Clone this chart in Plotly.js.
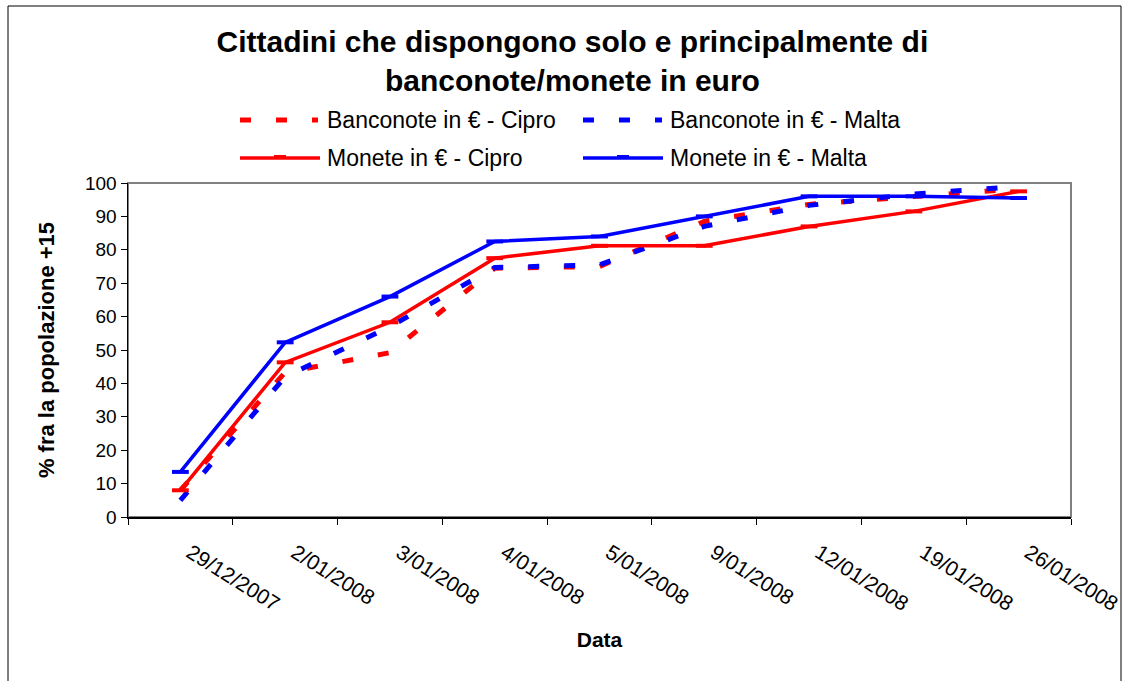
<!DOCTYPE html>
<html>
<head>
<meta charset="utf-8">
<script src="https://cdn.plot.ly/plotly-3.0.1.min.js"></script>
<style>html,body{margin:0;padding:0;background:#fff;}#chart{width:1129px;height:681px;}</style>
</head>
<body>
<div id="chart"></div>
<script>
const categories = ["29/12/2007","2/01/2008","3/01/2008","4/01/2008","5/01/2008","9/01/2008","12/01/2008","19/01/2008","26/01/2008"];
const banconoteCipro = [8, 43.3, 49.2, 74.5, 75, 88.5, 93.6, 96, 98.3];
const banconoteMalta = [5, 42, 57, 74.7, 75.5, 87, 93.3, 96.7, 99];
const moneteCipro = [8, 46.3, 58.3, 77.5, 81.2, 81.2, 87, 91.5, 97.5];
const moneteMalta = [13.5, 52.3, 66, 82.5, 84, 90, 96, 96, 95.5];
const seriesNames = ["Banconote in € - Cipro", "Banconote in € - Malta", "Monete in € - Cipro", "Monete in € - Malta"];
const titleText = "Cittadini che dispongono solo e principalmente di<br>banconote/monete in euro";
const xTitle = "Data";
const yTitle = "% fra la popolazione +15";

const RED = "#ff0000", BLUE = "#0000ff";
const FONT = "Liberation Sans, Arial, sans-serif";
const DASH = "11px,25px";

function tr(y, name, color, dashed) {
  return {
    x: categories, y: y, name: name, type: "scatter", mode: dashed ? "lines" : "lines+markers",
    line: {color: color, width: dashed ? 5 : 3.5, dash: dashed ? DASH : "solid"},
    marker: {symbol: "line-ew", size: 12, line: {color: color, width: 4}},
    showlegend: false, cliponaxis: false
  };
}
const data = [
  tr(banconoteCipro, seriesNames[0], RED, true),
  tr(banconoteMalta, seriesNames[1], BLUE, true),
  tr(moneteCipro, seriesNames[2], RED, false),
  tr(moneteMalta, seriesNames[3], BLUE, false)
];

// plot-area pixel geometry helpers for the hand-made legend
const L = 128, R = 58, T = 183, B = 164, W = 1129, H = 681;
const pw = W - L - R, ph = H - T - B;
const px = v => (v - L) / pw;
const py = v => (H - B - v) / ph;

const legendItems = [
  {name: seriesNames[0], color: RED, dash: DASH, w: 5, x0: 240, x1: 318, tx: 325, y: 120},
  {name: seriesNames[1], color: BLUE, dash: DASH, w: 5, x0: 583, x1: 662, tx: 668, y: 120},
  {name: seriesNames[2], color: RED, dash: "solid", w: 3.5, x0: 240, x1: 320, tx: 325, y: 158},
  {name: seriesNames[3], color: BLUE, dash: "solid", w: 3.5, x0: 583, x1: 663, tx: 668, y: 158}
];
const shapes = [
  {type: "rect", xref: "paper", yref: "paper", x0: px(8), x1: px(1121), y0: py(700), y1: py(6), line: {color: "#000", width: 1}, layer: "below"},
  {type: "rect", xref: "paper", yref: "paper", x0: 0, x1: 1, y0: 0, y1: 1, line: {color: "#808080", width: 2}, layer: "below"}
];
const annotations = [];
legendItems.forEach(it => {
  shapes.push({type: "line", xref: "paper", yref: "paper", x0: px(it.x0), x1: px(it.x1), y0: py(it.y), y1: py(it.y), line: {color: it.color, width: it.w, dash: it.dash}});
  if (it.dash === "solid") {
    const m = (it.x0 + it.x1) / 2;
    shapes.push({type: "line", xref: "paper", yref: "paper", x0: px(m - 6), x1: px(m + 6), y0: py(it.y - 1), y1: py(it.y - 1), line: {color: it.color, width: 4}});
  }
  annotations.push({xref: "paper", yref: "paper", x: px(it.tx), y: py(it.y), xanchor: "left", yanchor: "middle", showarrow: false, text: it.name, font: {family: FONT, size: 23, color: "#000"}});
});

const layout = {
  width: W, height: H,
  margin: {l: L, r: R, t: T, b: B},
  paper_bgcolor: "#fff", plot_bgcolor: "#fff",
  font: {family: FONT, color: "#000"},
  title: {text: titleText, x: 0.507, xanchor: "center", y: 1 - 52 / H, yanchor: "middle", yref: "container", font: {family: FONT, size: 30, color: "#000", weight: "bold"}},
  showlegend: false,
  xaxis: {
    type: "category", tickson: "boundaries", ticks: "outside", ticklen: 6, tickcolor: "#000", tickwidth: 1,
    showline: true, linecolor: "#000", linewidth: 1.5, showgrid: false, zeroline: false,
    tickangle: 32, tickfont: {family: FONT, size: 21, color: "#000"}, ticklabelstandoff: 14, ticklabelshift: 10,
    title: {text: xTitle, font: {family: FONT, size: 21, color: "#000", weight: "bold"}, standoff: 18},
    range: [-0.5, 8.5], fixedrange: true
  },
  yaxis: {
    range: [0, 100], dtick: 10, ticks: "outside", ticklen: 6, tickcolor: "#000", tickwidth: 1,
    showline: true, linecolor: "#000", linewidth: 1.5, showgrid: false, zeroline: false,
    tickfont: {family: FONT, size: 19, color: "#000"},
    title: {text: yTitle, font: {family: FONT, size: 22, color: "#000", weight: "bold"}, standoff: 24},
    fixedrange: true
  },
  shapes: shapes,
  annotations: annotations
};
Plotly.newPlot("chart", data, layout, {displayModeBar: false, staticPlot: true});
</script>
</body>
</html>
